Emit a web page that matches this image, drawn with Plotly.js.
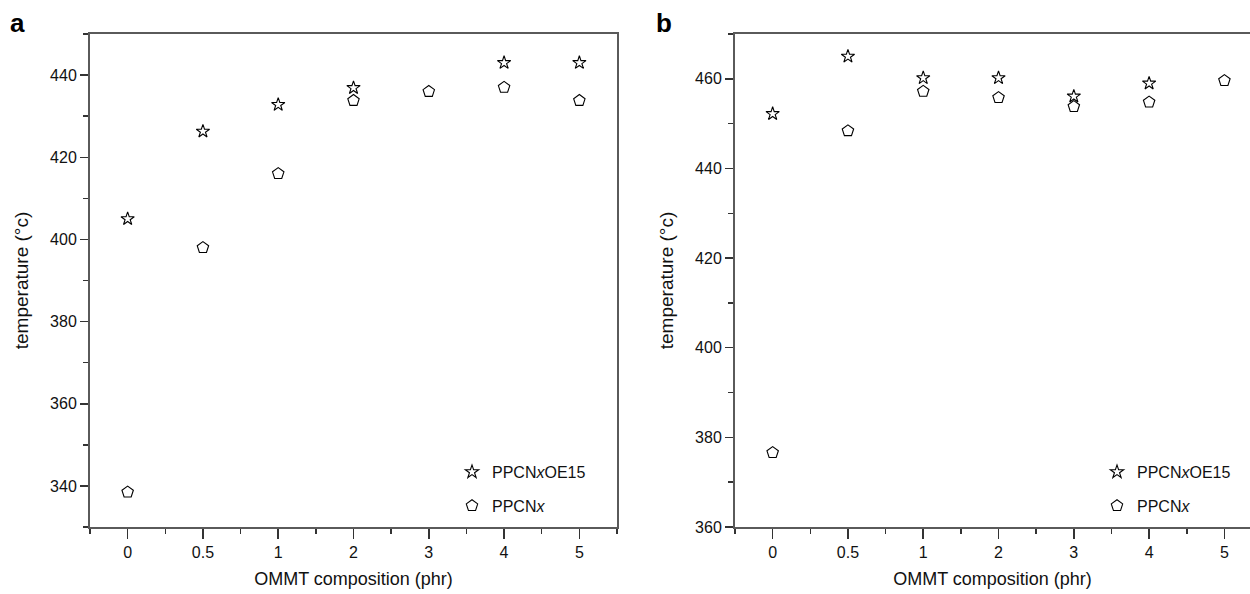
<!DOCTYPE html>
<html>
<head>
<meta charset="utf-8">
<script src="https://cdn.plot.ly/plotly-3.0.1.min.js"></script>
<style>html,body{margin:0;padding:0;background:#fff;}#chart{width:1250px;height:594px;}</style>
</head>
<body>
<div id="chart"></div>
<script>
// OMMT composition categories (phr)
const categories = ['0', '0.5', '1', '2', '3', '4', '5'];
// Panel a
const aStar = [405, 426.3, 432.8, 436.9, null, 443, 443];
const aPent = [338.5, 398, 416, 433.8, 436, 437, 433.8];
// Panel b
const bStar = [452.2, 465, 460.2, 460.2, 456.1, 459, null];
const bPent = [376.6, 448.4, 457.2, 455.8, 453.8, 454.8, 459.6];
const seriesNames = ['PPCN<i>x</i>OE15', 'PPCN<i>x</i>'];

const idx = categories.map((c, i) => i);
const FONT = 'Liberation Sans, Arial, sans-serif';
const LINE = '#5a5a5a';

function tr(y, name, sym, xa, ya, leg, grp) {
  return {
    x: idx, y: y, name: name, type: 'scatter', mode: 'markers',
    xaxis: xa, yaxis: ya, legend: leg, legendgroup: grp,
    marker: {symbol: sym, size: sym === 'star-open' ? 10 : 12, color: '#000', line: {color: '#000', width: 1.1}},
    cliponaxis: false
  };
}

const traces = [
  tr(aStar, seriesNames[0], 'star-open', 'x', 'y', 'legend', 'g1'),
  tr(aPent, seriesNames[1], 'pentagon-open', 'x', 'y', 'legend', 'g2'),
  tr(bStar, seriesNames[0], 'star-open', 'x2', 'y2', 'legend2', 'g3'),
  tr(bPent, seriesNames[1], 'pentagon-open', 'x2', 'y2', 'legend2', 'g4')
];

function xax(domain, range, anchor) {
  return {
    domain: domain, range: range, anchor: anchor,
    tickmode: 'array', tickvals: idx, ticktext: categories,
    ticks: 'outside', ticklen: 10, tickwidth: 1.5, tickcolor: '#333',
    minor: {tickmode: 'linear', tick0: -0.5, dtick: 1, ticks: 'outside', ticklen: 5, tickwidth: 1.5, tickcolor: '#333'},
    showline: true, linecolor: LINE, linewidth: 2, mirror: true,
    showgrid: false, zeroline: false,
    tickfont: {family: FONT, size: 16, color: '#111'},
    title: {text: 'OMMT composition (phr)', font: {family: FONT, size: 18, color: '#111'}, standoff: 12}
  };
}
function yax(domain, range, anchor, mirror) {
  return {
    domain: domain, range: range, anchor: anchor,
    dtick: 20, tick0: 0,
    ticks: 'outside', ticklen: 8, tickwidth: 1.5, tickcolor: '#333',
    minor: {dtick: 10, ticks: 'outside', ticklen: 5, tickwidth: 1.5, tickcolor: '#333'},
    showline: true, linecolor: LINE, linewidth: 2, mirror: mirror,
    showgrid: false, zeroline: false,
    tickfont: {family: FONT, size: 16, color: '#111'},
    title: {text: 'temperature (°c)', font: {family: FONT, size: 19, color: '#111'}, standoff: 16}
  };
}

const ydom = [1 - 527 / 594, 1 - 34 / 594];
const legFont = {family: FONT, size: 16, color: '#111'};
const layout = {
  width: 1250, height: 594,
  margin: {l: 0, r: 0, t: 0, b: 0},
  paper_bgcolor: '#fff', plot_bgcolor: '#fff',
  showlegend: true,
  xaxis: xax([90 / 1250, 617 / 1250], [-0.5, 6.5], 'y'),
  yaxis: yax(ydom, [330, 450], 'x', true),
  xaxis2: xax([735 / 1250, 1], [-0.5, 6.34], 'y2'),
  yaxis2: yax(ydom, [360, 470], 'x2', false),
  legend: {x: 452 / 1250, y: 1 - 455 / 594, xanchor: 'left', yanchor: 'top', bgcolor: 'rgba(0,0,0,0)',
    font: legFont, traceorder: 'grouped', tracegroupgap: 10, itemwidth: 30},
  legend2: {x: 1097 / 1250, y: 1 - 455 / 594, xanchor: 'left', yanchor: 'top', bgcolor: 'rgba(0,0,0,0)',
    font: legFont, traceorder: 'grouped', tracegroupgap: 10, itemwidth: 30},
  annotations: [
    {text: '<b>a</b>', xref: 'paper', yref: 'paper', x: 8 / 1250, y: 1 - 6 / 594, xanchor: 'left', yanchor: 'top', showarrow: false, font: {family: FONT, size: 26, color: '#000'}},
    {text: '<b>b</b>', xref: 'paper', yref: 'paper', x: 654 / 1250, y: 1 - 6 / 594, xanchor: 'left', yanchor: 'top', showarrow: false, font: {family: FONT, size: 26, color: '#000'}}
  ]
};

Plotly.newPlot('chart', traces, layout, {displayModeBar: false, staticPlot: true});
</script>
</body>
</html>
